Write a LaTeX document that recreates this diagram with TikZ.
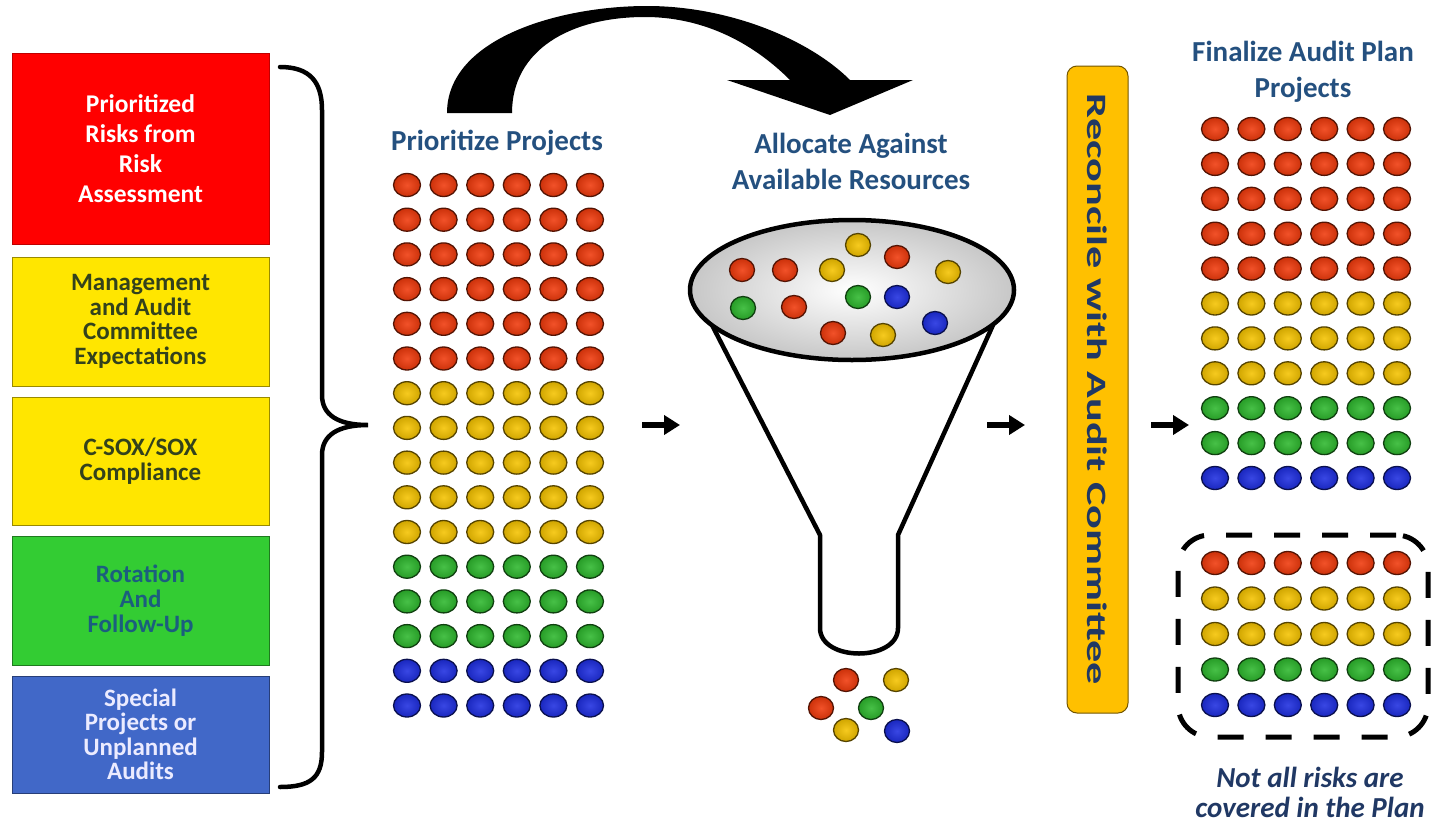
\documentclass[tikz,border=0pt]{standalone}
\usepackage{fontspec}
\setmainfont{Carlito}
\usetikzlibrary{arrows.meta}
\definecolor{bred}{HTML}{F03A0C}
\definecolor{byel}{HTML}{F5C300}
\definecolor{bgrn}{HTML}{2EB82E}
\definecolor{bblu}{HTML}{1E2EE0}
\definecolor{boxred}{HTML}{FF0000}
\definecolor{boxyel}{HTML}{FFE600}
\definecolor{boxgrn}{HTML}{33CC33}
\definecolor{boxblu}{HTML}{4168C8}
\definecolor{bargold}{HTML}{FFC000}
\definecolor{titleblue}{HTML}{24507F}
\definecolor{olivetxt}{HTML}{33421C}
\definecolor{tealtxt}{HTML}{1B5E7E}
\definecolor{navytxt}{HTML}{203864}
\newcommand{\myball}[3]{\shade[inner color=#3!88!white, outer color=#3!85!black, draw=#3!35!black, line width=1.3pt] (#1,#2) ellipse (13.5pt and 11.5pt);}
\newcommand{\smallball}[3]{\shade[inner color=#3!88!white, outer color=#3!85!black, draw=#3!35!black, line width=1.3pt] (#1,#2) ellipse (12.5pt and 11.5pt);}
\tikzset{
  srcbox/.style={draw, line width=0.8pt, minimum width=257pt, inner sep=0pt, align=center, font=\bfseries},
  titletxt/.style={text=titleblue, font=\fontsize{29}{36}\selectfont\bfseries, align=center, inner sep=0pt},
  steparrow/.style={line width=5.5pt, -{Triangle[length=16pt,width=19pt]}},
}
\begin{document}
\begin{tikzpicture}[x=1pt,y=-1pt]
\useasboundingbox[fill=white] (0,0) rectangle (1437,822);

% left source boxes
\node[srcbox, fill=boxred, draw=boxred!75!black, minimum height=191pt, text=white,
  font=\fontsize{25.5}{30}\selectfont\bfseries] (risk) at (140.5,148.5)
  {Prioritized\\Risks from\\Risk\\Assessment};
\node[srcbox, fill=boxyel, draw=boxyel!60!black, minimum height=129pt, text=olivetxt,
  font=\fontsize{25}{24.5}\selectfont\bfseries] (mgmt) at (140.5,321.5)
  {Management\\and Audit\\Committee\\Expectations};
\node[srcbox, fill=boxyel, draw=boxyel!60!black, minimum height=128pt, text=olivetxt,
  font=\fontsize{25}{24.5}\selectfont\bfseries] (sox) at (140.5,461)
  {C-SOX/SOX\\Compliance};
\node[srcbox, fill=boxgrn, draw=boxgrn!60!black, minimum height=129pt, text=tealtxt,
  font=\fontsize{25}{25}\selectfont\bfseries] (rot) at (140.5,600.5)
  {Rotation\\And\\Follow-Up};
\node[srcbox, fill=boxblu, draw=boxblu!60!black, minimum height=117pt, text=white!92!blue,
  font=\fontsize{25}{24.5}\selectfont\bfseries] (spec) at (140.5,734.5)
  {Special\\Projects or\\Unplanned\\Audits};

% brace
\draw[line width=4.5pt, line cap=round] (280,67) .. controls (310,67) and (322,82) .. (322,110)
  -- (322,395) .. controls (322,415) and (338,425) .. (368,425)
  .. controls (338,425) and (322,435) .. (322,455)
  -- (322,752) .. controls (322,778) and (310,787) .. (280,787);

% big curved arrow
\fill[black] (447,113) .. controls (447,38) and (560,6) .. (647,6)
  .. controls (730,6) and (810,40) .. (850,80) -- (913,80) -- (830,115) -- (727,80) -- (790,80)
  .. controls (750,40) and (700,17) .. (645,17)
  .. controls (570,17) and (512,50) .. (512,113) -- cycle;

% titles
\node[titletxt] (t1) at (497,143) {Prioritize Projects};
\node[titletxt] (t2) at (851,161) {Allocate Against\\Available Resources};
\node[titletxt] (t3) at (1303,72) {Finalize Audit Plan\\Projects};

% prioritize grid
\foreach \c [count=\i from 0] in {bred,bred,bred,bred,bred,bred,byel,byel,byel,byel,byel,bgrn,bgrn,bgrn,bblu,bblu}{
  \foreach \j in {0,...,5}{ \myball{407+36.6*\j}{185+34.7*\i}{\c} }
}

% funnel
\draw[line width=4.5pt, line join=round] (712,325) -- (820,535) -- (820,628)
  .. controls (820,662) and (898,662) .. (898,628) -- (898,535) -- (993,325);
\shade[inner color=white, outer color=black!22] (852,290) ellipse (162pt and 70pt);
\draw[line width=4.5pt] (852,290) ellipse (162pt and 70pt);
\coordinate (funnel) at (852,290);
\smallball{742}{270}{bred}
\smallball{785}{270}{bred}
\smallball{832}{270}{byel}
\smallball{858}{245}{byel}
\smallball{897}{257}{bred}
\smallball{948}{272}{byel}
\smallball{743}{308}{bgrn}
\smallball{794}{307}{bred}
\smallball{858}{297}{bgrn}
\smallball{897}{297}{bblu}
\smallball{833}{333}{bred}
\smallball{883}{335}{byel}
\smallball{935}{323}{bblu}
% falling balls
\smallball{846}{680}{bred}
\smallball{896}{680}{byel}
\smallball{821}{708}{bred}
\smallball{871}{708}{bgrn}
\smallball{846}{730}{byel}
\smallball{897}{731}{bblu}

% step arrows
\coordinate (a1s) at (642,425); \coordinate (a1e) at (680,425);
\coordinate (a2s) at (987,425); \coordinate (a2e) at (1025,425);
\coordinate (a3s) at (1151,425); \coordinate (a3e) at (1189,425);
\draw[steparrow] (a1s) -- (a1e);
\draw[steparrow] (a2s) -- (a2e);
\draw[steparrow] (a3s) -- (a3e);

% reconcile bar
\node[draw=bargold!45!black, line width=1pt, fill=bargold, rounded corners=10pt,
  minimum width=61pt, minimum height=647pt, inner sep=0pt] (bar) at (1097.5,389.5) {};
\node[rotate=-90, text=navytxt, font=\fontsize{28}{30}\selectfont\bfseries, inner sep=0pt] (bartxt) at (bar.center)
  {\scalebox{1.58}[1]{Reconcile with Audit Committee}};

% finalize grid
\foreach \c [count=\i from 0] in {bred,bred,bred,bred,bred,byel,byel,byel,bgrn,bgrn,bblu}{
  \foreach \j in {0,...,5}{ \myball{1215+36.4*\j}{129+34.9*\i}{\c} }
}

% not covered grid
\node[draw, line width=5pt, dash pattern=on 26pt off 22pt, rounded corners=32pt,
  minimum width=250pt, minimum height=202pt, inner sep=0pt] (dbox) at (1303,636) {};
\foreach \c [count=\i from 0] in {bred,byel,byel,bgrn,bblu}{
  \foreach \j in {0,...,5}{ \myball{1215+36.4*\j}{563+35.5*\i}{\c} }
}
\node[text=navytxt, font=\fontsize{29}{30}\selectfont\bfseries\itshape, align=center, inner sep=0pt] (note) at (1310,792)
  {Not all risks are\\covered in the Plan};
\end{tikzpicture}
\end{document}
